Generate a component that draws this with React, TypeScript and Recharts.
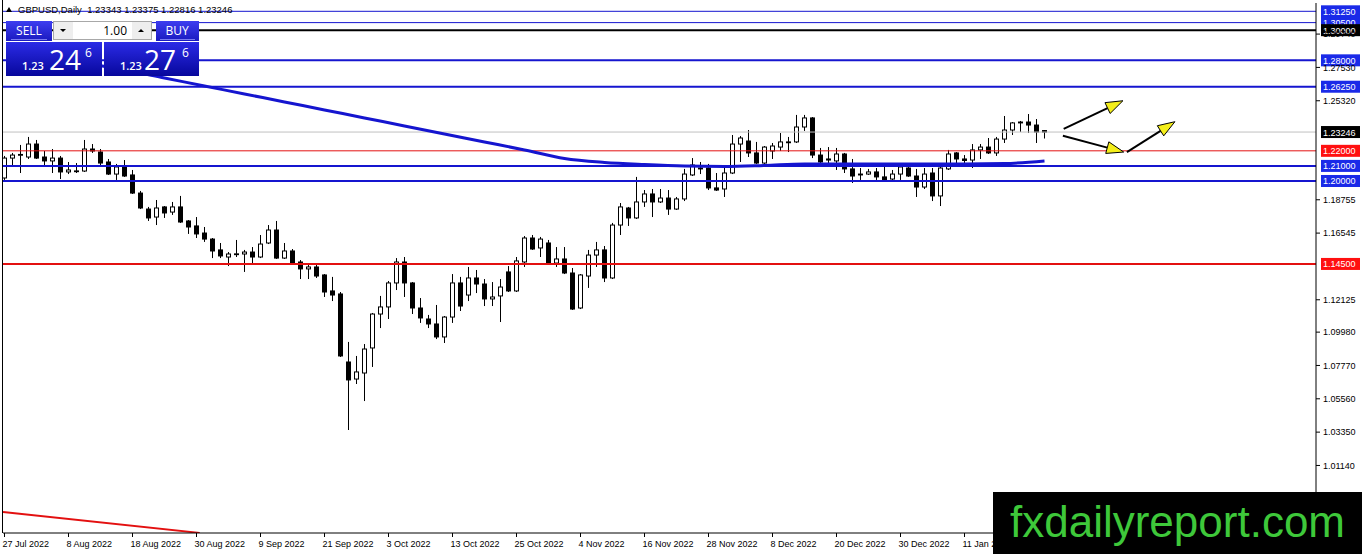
import React from 'react';
import { ComposedChart, Bar, Line, XAxis, YAxis, ReferenceLine } from 'recharts';

// GBPUSD daily, 27 Jul 2022 .. 25 Jan 2023 (bar index 0..130)
const dateTicks = [
  '27 Jul 2022', '8 Aug 2022', '18 Aug 2022', '30 Aug 2022', '9 Sep 2022', '21 Sep 2022',
  '3 Oct 2022', '13 Oct 2022', '25 Oct 2022', '4 Nov 2022', '16 Nov 2022', '28 Nov 2022',
  '8 Dec 2022', '20 Dec 2022', '30 Dec 2022', '11 Jan 2023',
];

const opens = [
  1.2020, 1.2152, 1.2172, 1.2159, 1.2245, 1.2159, 1.2133, 1.2152, 1.2060, 1.2066,
  1.2066, 1.2212, 1.2192, 1.2126, 1.2046, 1.2093, 1.2040, 1.1920, 1.1814, 1.1761,
  1.1828, 1.1794, 1.1828, 1.1735, 1.1702, 1.1655, 1.1615, 1.1543, 1.1496, 1.1516,
  1.1516, 1.1529, 1.1496, 1.1589, 1.1675, 1.1489, 1.1536, 1.1463, 1.1417, 1.1430,
  1.1377, 1.1271, 1.1251, 1.0800, 1.0687, 1.0727, 1.0893, 1.1118, 1.1165, 1.1324,
  1.1463, 1.1324, 1.1158, 1.1085, 1.1052, 1.0966, 1.1098, 1.1324, 1.1244, 1.1357,
  1.1317, 1.1218, 1.1238, 1.1397, 1.1271, 1.1463, 1.1622, 1.1556, 1.1589, 1.1456,
  1.1483, 1.1390, 1.1158, 1.1370, 1.1509, 1.1543, 1.1357, 1.1708, 1.1821, 1.1755,
  1.1861, 1.1914, 1.1861, 1.1887, 1.1814, 1.1881, 1.2040, 1.2086, 1.2086, 1.1954,
  1.1947, 1.2053, 1.2245, 1.2265, 1.2186, 1.2119, 1.2199, 1.2225, 1.2259, 1.2259,
  1.2358, 1.2418, 1.2172, 1.2146, 1.2133, 1.2179, 1.2080, 1.2046, 1.2046, 1.2060,
  1.2027, 1.2013, 1.2046, 1.2086, 1.2033, 1.1960, 1.2053, 1.1901, 1.2080, 1.2186,
  1.2146, 1.2139, 1.2206, 1.2225, 1.2186, 1.2278, 1.2338, 1.2391, 1.2391, 1.2371,
  1.23343,
];
const highs = [
  1.2166, 1.2186, 1.2239, 1.2292, 1.2272, 1.2199, 1.2212, 1.2166, 1.2126, 1.2119,
  1.2272, 1.2245, 1.2212, 1.2146, 1.2113, 1.2139, 1.2073, 1.1934, 1.1828, 1.1874,
  1.1834, 1.1861, 1.1901, 1.1741, 1.1761, 1.1695, 1.1622, 1.1589, 1.1529, 1.1609,
  1.1543, 1.1562, 1.1642, 1.1708, 1.1735, 1.1589, 1.1549, 1.1476, 1.1456, 1.1456,
  1.1383, 1.1364, 1.1264, 1.0933, 1.0840, 1.0919, 1.1125, 1.1238, 1.1337, 1.1489,
  1.1496, 1.1330, 1.1224, 1.1112, 1.1178, 1.1105, 1.1383, 1.1364, 1.1430, 1.1410,
  1.1350, 1.1330, 1.1350, 1.1436, 1.1496, 1.1635, 1.1642, 1.1629, 1.1609, 1.1562,
  1.1562, 1.1423, 1.1383, 1.1543, 1.1596, 1.1569, 1.1722, 1.1854, 1.1828, 1.2027,
  1.1940, 1.1947, 1.1947, 1.1940, 1.1894, 1.2080, 1.2152, 1.2126, 1.2113, 1.2053,
  1.2093, 1.2305, 1.2298, 1.2338, 1.2259, 1.2232, 1.2252, 1.2318, 1.2292, 1.2438,
  1.2438, 1.2424, 1.2219, 1.2225, 1.2219, 1.2186, 1.2146, 1.2086, 1.2080, 1.2086,
  1.2119, 1.2073, 1.2106, 1.2093, 1.2080, 1.2086, 1.2086, 1.2099, 1.2206, 1.2192,
  1.2172, 1.2245, 1.2245, 1.2285, 1.2292, 1.2431, 1.2391, 1.2398, 1.2444, 1.2411,
  1.23375,
];
const lows = [
  1.2007, 1.2106, 1.2053, 1.2146, 1.2146, 1.2099, 1.2053, 1.2013, 1.2046, 1.2053,
  1.2060, 1.2186, 1.2106, 1.2040, 1.2007, 1.2027, 1.1914, 1.1814, 1.1735, 1.1708,
  1.1755, 1.1775, 1.1722, 1.1649, 1.1622, 1.1596, 1.1489, 1.1489, 1.1436, 1.1496,
  1.1397, 1.1456, 1.1489, 1.1582, 1.1483, 1.1483, 1.1450, 1.1350, 1.1350, 1.1357,
  1.1231, 1.1204, 1.0833, 1.0349, 1.0654, 1.0541, 1.0767, 1.1025, 1.1085, 1.1277,
  1.1231, 1.1118, 1.1059, 1.1025, 1.0952, 1.0926, 1.1059, 1.1138, 1.1204, 1.1257,
  1.1171, 1.1171, 1.1065, 1.1264, 1.1264, 1.1430, 1.1543, 1.1496, 1.1450, 1.1430,
  1.1383, 1.1145, 1.1151, 1.1291, 1.1430, 1.1330, 1.1350, 1.1642, 1.1702, 1.1748,
  1.1828, 1.1761, 1.1854, 1.1775, 1.1808, 1.1867, 1.2033, 1.2046, 1.1940, 1.1934,
  1.1894, 1.2046, 1.2126, 1.2159, 1.2113, 1.2113, 1.2146, 1.2199, 1.2192, 1.2252,
  1.2332, 1.2152, 1.2119, 1.2093, 1.2073, 1.2053, 1.1987, 1.2007, 1.2040, 1.2007,
  1.2000, 1.2000, 1.2007, 1.2027, 1.1894, 1.1947, 1.1867, 1.1834, 1.2073, 1.2106,
  1.2113, 1.2086, 1.2146, 1.2179, 1.2166, 1.2252, 1.2305, 1.2325, 1.2318, 1.2252,
  1.22816,
];
const closes = [
  1.2152, 1.2172, 1.2176, 1.2245, 1.2152, 1.2133, 1.2152, 1.2060, 1.2073, 1.2067,
  1.2212, 1.2199, 1.2119, 1.2046, 1.2093, 1.2033, 1.1920, 1.1821, 1.1755, 1.1821,
  1.1788, 1.1828, 1.1728, 1.1695, 1.1649, 1.1615, 1.1536, 1.1503, 1.1516, 1.1517,
  1.1529, 1.1496, 1.1582, 1.1675, 1.1489, 1.1536, 1.1456, 1.1417, 1.1430, 1.1370,
  1.1264, 1.1244, 1.0840, 1.0681, 1.0734, 1.0886, 1.1118, 1.1165, 1.1324, 1.1463,
  1.1324, 1.1158, 1.1092, 1.1052, 1.0966, 1.1098, 1.1324, 1.1171, 1.1357, 1.1317,
  1.1218, 1.1231, 1.1297, 1.1271, 1.1470, 1.1622, 1.1549, 1.1615, 1.1456, 1.1483,
  1.1390, 1.1151, 1.1377, 1.1509, 1.1543, 1.1357, 1.1708, 1.1828, 1.1755, 1.1861,
  1.1914, 1.1861, 1.1887, 1.1814, 1.1881, 1.2046, 1.2106, 1.2080, 1.1954, 1.1940,
  1.2053, 1.2245, 1.2285, 1.2186, 1.2119, 1.2225, 1.2232, 1.2259, 1.2255, 1.2358,
  1.2418, 1.2172, 1.2126, 1.2139, 1.2179, 1.2080, 1.2033, 1.2040, 1.2060, 1.2027,
  1.2007, 1.2046, 1.2093, 1.2033, 1.1960, 1.2046, 1.1901, 1.2086, 1.2179, 1.2146,
  1.2136, 1.2206, 1.2225, 1.2186, 1.2278, 1.2338, 1.2385, 1.2385, 1.2371, 1.2325,
  1.23246,
];

// moving average read every 5 bars
const maBars = [10, 15, 20, 25, 30, 35, 40, 45, 50, 55, 60, 65, 70, 75, 80, 85, 90, 95, 100, 105, 110, 115, 120, 125, 130];
const maValues = [
  1.2782, 1.2736, 1.2683, 1.2630, 1.2577, 1.2524, 1.2471, 1.2418, 1.2365, 1.2312,
  1.2259, 1.2206, 1.2149, 1.2123, 1.2109, 1.2099, 1.2096, 1.2103, 1.2113, 1.2113,
  1.2113, 1.2113, 1.2113, 1.2116, 1.2133,
];

const levelPrices = [1.3125, 1.305, 1.30, 1.28, 1.2625, 1.22, 1.21, 1.20, 1.145];
const bidPrice = 1.23246;
const yTicks = [1.2974, 1.2753, 1.2532, 1.18755, 1.16545, 1.12125, 1.0998, 1.0777, 1.0556, 1.0335, 1.0114];

const arrowFrom = [[132.4, 1.2345], [132.3, 1.2300], [140.3, 1.2192]];
const arrowTo = [[139.8, 1.2532], [139.9, 1.2192], [146.3, 1.2393]];
const trendFrom = [-0.1875, 0.9806];
const trendTo = [24.4, 0.9667];

const title = 'GBPUSD,Daily  1.23343 1.23375 1.22816 1.23246';

// styles
const BLUE = '#1515cf';
const TAG_BLUE = '#1a2ae8';
const RED = '#e31010';
const levelStroke = [BLUE, BLUE, '#000', BLUE, BLUE, RED, BLUE, BLUE, RED];
const levelWidth = [1, 1, 2, 2, 2, 1, 2, 2, 2];
const levelTag = [TAG_BLUE, TAG_BLUE, '#000', TAG_BLUE, TAG_BLUE, '#ff1010', TAG_BLUE, TAG_BLUE, '#ff1010'];
const FONT = '"Liberation Sans", Arial, sans-serif';

const X_MIN = -0.1875;
const X_MAX = 163.9375;
const Y_MIN = 0.96662;
const Y_MAX = 1.31801;

const maMap = new Map(maBars.map((b, k) => [b, maValues[k]]));
const data = opens.map((o, i) => ({
  i,
  open: o,
  high: highs[i],
  low: lows[i],
  close: closes[i],
  range: [lows[i], highs[i]],
  ma: maMap.has(i) ? maMap.get(i) : null,
}));

function Candle(props: any) {
  const { x, y, width, height, payload } = props;
  if (x == null || y == null || !payload) return null;
  const top = Math.min(y, y + height);
  const h = Math.abs(height);
  const span = payload.high - payload.low;
  const k = span > 0 ? h / span : 0;
  const yOf = (v: number) => top + (payload.high - v) * k;
  const cx = x + width / 2;
  const up = payload.close >= payload.open;
  const bTop = yOf(Math.max(payload.open, payload.close));
  const bBot = yOf(Math.min(payload.open, payload.close));
  return (
    <g>
      <line x1={cx} x2={cx} y1={top} y2={top + h} stroke="#000" strokeWidth={1} />
      <rect
        x={x + 1}
        y={bTop}
        width={Math.max(width - 2, 1)}
        height={Math.max(bBot - bTop, 0.8)}
        fill={up ? '#fff' : '#000'}
        stroke="#000"
        strokeWidth={1}
      />
    </g>
  );
}

const tagLabel = (text: string, fill: string) => (props: any) => {
  const vb = props.viewBox || {};
  const right = (vb.x ?? 0) + (vb.width ?? 0);
  const y = vb.y ?? 0;
  return (
    <g>
      <rect x={right + 5} y={y - 6} width={39} height={12} fill={fill} />
      <text x={right + 7} y={y + 3.5} fontSize={9} fill="#fff" fontFamily={FONT}>
        {text}
      </text>
    </g>
  );
};

function ArrowShape(props: any) {
  const { x1, y1, x2, y2 } = props;
  if ([x1, y1, x2, y2].some((v) => v == null || Number.isNaN(v))) return null;
  const a = Math.atan2(y2 - y1, x2 - x1);
  const len = 17;
  const half = 6;
  const bx = x2 - len * Math.cos(a);
  const by = y2 - len * Math.sin(a);
  const nx = -Math.sin(a) * half;
  const ny = Math.cos(a) * half;
  return (
    <g>
      <line x1={x1} y1={y1} x2={bx} y2={by} stroke="#000" strokeWidth={2} />
      <polygon
        points={`${x2},${y2} ${bx + nx},${by + ny} ${bx - nx},${by - ny}`}
        fill="#f4ee1a"
        stroke="#000"
        strokeWidth={1}
      />
    </g>
  );
}

function XTick(props: any) {
  const { x, y, payload } = props;
  const label = dateTicks[Math.round(payload.value / 8)];
  return (
    <text x={x - 2} y={y + 8} fontSize={9} fontFamily={FONT} fill="#000">
      {label}
    </text>
  );
}

function Overlay() {
  return (
    <svg width={1362} height={554} style={{ position: 'absolute', left: 0, top: 0, pointerEvents: 'none' }}>
      <defs>
        <linearGradient id="btn" x1="0" y1="0" x2="0" y2="1">
          <stop offset="0" stopColor="#3d3df0" />
          <stop offset="1" stopColor="#1a1ac0" />
        </linearGradient>
        <linearGradient id="px" x1="0" y1="0" x2="0" y2="1">
          <stop offset="0" stopColor="#2b2be6" />
          <stop offset="1" stopColor="#07079c" />
        </linearGradient>
      </defs>
      <line x1={2.5} y1={0} x2={2.5} y2={533} stroke="#000" strokeWidth={1} />
      {/* title */}
      <polygon points="6,12 9,7 12,12" fill="#000" />
      <text x={18} y={13} fontSize={9.5} fontFamily={FONT} fill="#000" style={{ whiteSpace: 'pre' }}>
        {title}
      </text>
      {/* one-click trading panel */}
      <rect x={6} y={21} width={46} height={20} fill="url(#btn)" />
      <text x={29} y={35} textAnchor="middle" fontSize={12} fontFamily="Open Sans" fill="#fff">SELL</text>
      <line x1={11} x2={47} y1={39.5} y2={39.5} stroke="#7a7af0" />
      <rect x={53.5} y={21.5} width={98} height={18} fill="#fff" stroke="#a8a8a8" />
      <rect x={54} y={22} width={19} height={17} fill="#eeeeee" />
      <rect x={132} y={22} width={19} height={17} fill="#eeeeee" />
      <polygon points="60,29 66,29 63,32" fill="#000" />
      <polygon points="138,32 144,32 141,29" fill="#000" />
      <text x={127} y={35} textAnchor="end" fontSize={12} fontFamily="Open Sans" fill="#000">1.00</text>
      <rect x={156} y={21} width={43} height={20} fill="url(#btn)" />
      <text x={177} y={35} textAnchor="middle" fontSize={12} fontFamily="Open Sans" fill="#fff">BUY</text>
      <line x1={160} x2={195} y1={39.5} y2={39.5} stroke="#7a7af0" />
      <rect x={6} y={42} width={96} height={34} fill="url(#px)" />
      <text x={22} y={70} fontSize={11} fontWeight={600} fontFamily="Open Sans" fill="#fff">1.23</text>
      <text x={49} y={70} fontSize={28} fontFamily="Open Sans" fill="#fff">24</text>
      <text x={85} y={57} fontSize={12} fontFamily="Open Sans" fill="#fff">6</text>
      <rect x={104} y={42} width={95} height={34} fill="url(#px)" />
      <text x={120} y={70} fontSize={11} fontWeight={600} fontFamily="Open Sans" fill="#fff">1.23</text>
      <text x={144} y={70} fontSize={28} fontFamily="Open Sans" fill="#fff">27</text>
      <text x={182} y={57} fontSize={12} fontFamily="Open Sans" fill="#fff">6</text>
      {/* watermark */}
      <rect x={993} y={492} width={369} height={62} fill="#000" />
      <text x={1010} y={537} fontSize={44} fontFamily={FONT} fill="#3ec83a">fxdailyreport.com</text>
    </svg>
  );
}

export default function App() {
  return (
    <div style={{ position: 'absolute', left: 0, top: 0, width: 1362, height: 554, background: '#fff' }}>
      <ComposedChart width={1362} height={554} data={data} margin={{ top: 3, right: 0, bottom: 0, left: 3 }}>
        <XAxis
          dataKey="i"
          type="number"
          domain={[X_MIN, X_MAX]}
          allowDataOverflow
          ticks={dateTicks.map((_, k) => k * 8)}
          interval={0}
          height={21}
          tickSize={4}
          tick={XTick}
          axisLine={{ stroke: '#000' }}
          tickLine={{ stroke: '#000' }}
        />
        <YAxis
          orientation="right"
          type="number"
          domain={[Y_MIN, Y_MAX]}
          allowDataOverflow
          ticks={yTicks}
          interval={0}
          width={46}
          tickSize={4}
          tickMargin={3}
          tickFormatter={(v: number) => v.toFixed(5)}
          tick={{ fontSize: 9, fill: '#000', fontFamily: FONT }}
          axisLine={{ stroke: '#000' }}
          tickLine={{ stroke: '#000' }}
        />
        <ReferenceLine y={bidPrice} stroke="#c0c0c0" strokeWidth={1} label={tagLabel(bidPrice.toFixed(5), '#000')} />
        {levelPrices.map((p, k) => (
          <ReferenceLine
            key={p}
            y={p}
            stroke={levelStroke[k]}
            strokeWidth={levelWidth[k]}
            label={tagLabel(p.toFixed(5), levelTag[k])}
          />
        ))}
        <Bar dataKey="range" barSize={6} shape={Candle} isAnimationActive={false} />
        <Line
          dataKey="ma"
          type="monotone"
          stroke={BLUE}
          strokeWidth={3}
          dot={false}
          activeDot={false}
          connectNulls
          isAnimationActive={false}
        />
        <ReferenceLine
          segment={[{ x: trendFrom[0], y: trendFrom[1] }, { x: trendTo[0], y: trendTo[1] }]}
          stroke={RED}
          strokeWidth={2}
          ifOverflow="hidden"
        />
        {arrowFrom.map((f, k) => (
          <ReferenceLine
            key={k}
            segment={[{ x: f[0], y: f[1] }, { x: arrowTo[k][0], y: arrowTo[k][1] }]}
            shape={ArrowShape}
            ifOverflow="visible"
          />
        ))}
      </ComposedChart>
      <Overlay />
    </div>
  );
}
